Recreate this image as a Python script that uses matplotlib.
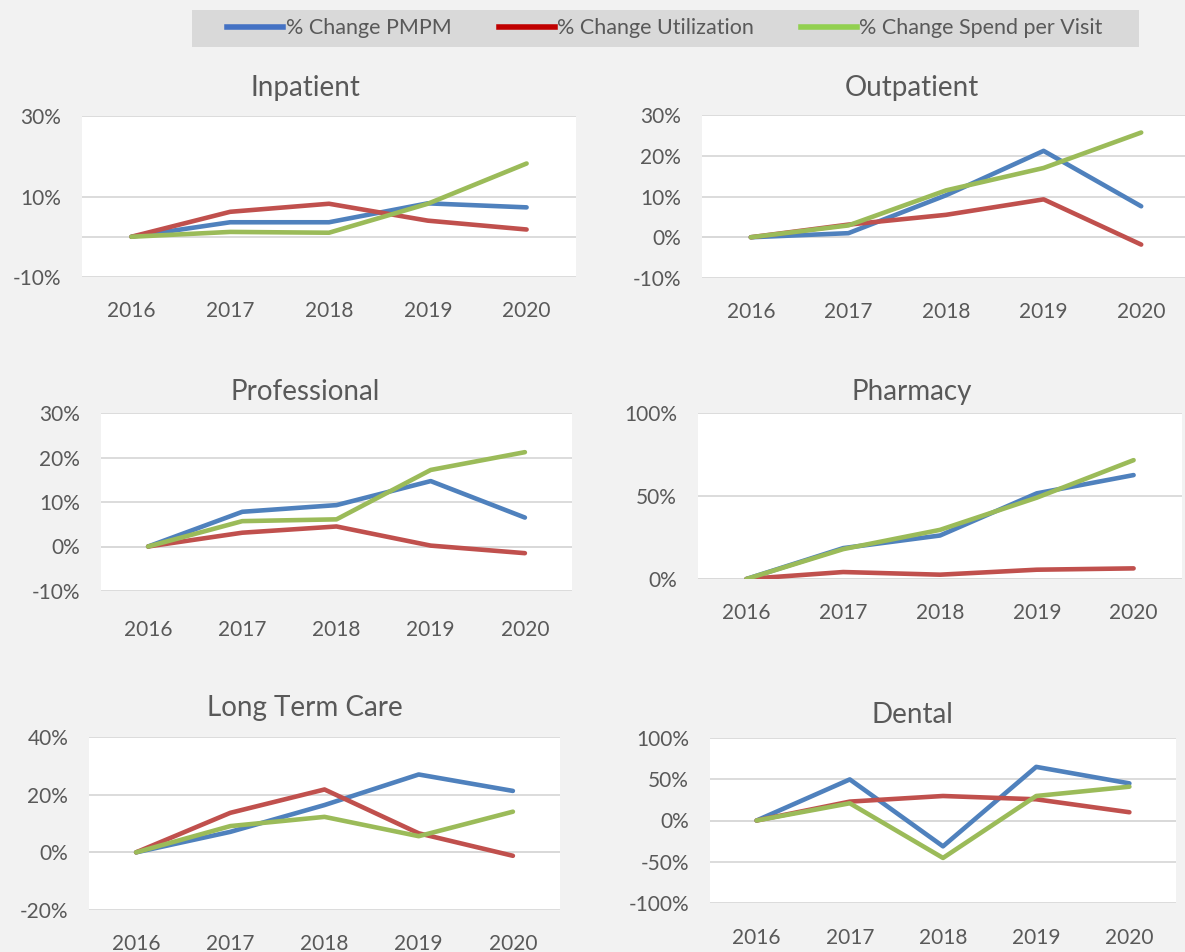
import matplotlib
matplotlib.use("Agg")
import matplotlib.pyplot as plt
from matplotlib.patches import Rectangle
from matplotlib.lines import Line2D
from matplotlib.ticker import FuncFormatter

# --- data (percent change vs 2016) ---
years = ["2016", "2017", "2018", "2019", "2020"]
series_names = ["% Change PMPM", "% Change Utilization", "% Change Spend per Visit"]

inpatient_pmpm = [0, 3.6, 3.6, 8.3, 7.3]
inpatient_util = [0, 6.2, 8.2, 4.0, 1.8]
inpatient_spend = [0, 1.2, 1.0, 8.2, 18.2]

outpatient_pmpm = [0, 1.0, 10.3, 21.2, 7.6]
outpatient_util = [0, 3.1, 5.5, 9.3, -1.8]
outpatient_spend = [0, 2.9, 11.5, 17.0, 25.7]

professional_pmpm = [0, 7.8, 9.3, 14.7, 6.5]
professional_util = [0, 3.1, 4.5, 0.2, -1.5]
professional_spend = [0, 5.7, 6.1, 17.2, 21.2]

pharmacy_pmpm = [0, 18.6, 26.2, 51.6, 62.6]
pharmacy_util = [0, 4.2, 2.6, 5.6, 6.4]
pharmacy_spend = [0, 18.0, 29.6, 49.0, 71.6]

ltc_pmpm = [0, 7.1, 16.4, 27.0, 21.3]
ltc_util = [0, 13.7, 21.8, 6.6, -1.2]
ltc_spend = [0, 9.1, 12.3, 5.6, 14.1]

dental_pmpm = [0, 49.8, -31.3, 65.0, 45.0]
dental_util = [0, 22.9, 29.7, 25.7, 10.0]
dental_spend = [0, 20.9, -45.4, 29.7, 41.0]

# --- style ---
W, H = 1185, 952
BG = "#f2f2f2"
GRID = "#d9d9d9"
TXT = "#595959"
LINE_COLORS = ["#4f81bd", "#c0504d", "#9bbb59"]
LEGEND_COLORS = ["#4472c4", "#c00000", "#92d050"]

plt.rcParams["font.family"] = ["Lato", "DejaVu Sans"]

fig = plt.figure(figsize=(W / 100, H / 100), dpi=100, facecolor=BG)


def px_box(l, r, t, b):
    return [l / W, 1 - b / H, (r - l) / W, (b - t) / H]


panels = [
    # title, data, (l, r, t, b), ylim, grid ticks, label ticks, title pos, xpad
    ("Inpatient", (inpatient_pmpm, inpatient_util, inpatient_spend),
     (82, 576, 116, 277), (-10, 30), [-10, 10, 30], [-10, 10, 30], (305, 88), 17),
    ("Outpatient", (outpatient_pmpm, outpatient_util, outpatient_spend),
     (702, 1190, 115, 278), (-10, 30), [-10, 0, 10, 20, 30], [-10, 0, 10, 20, 30], (912, 88), 17),
    ("Professional", (professional_pmpm, professional_util, professional_spend),
     (101, 572, 413, 591), (-10, 30), [-10, 0, 10, 20, 30], [-10, 0, 10, 20, 30], (305, 392), 21),
    ("Pharmacy", (pharmacy_pmpm, pharmacy_util, pharmacy_spend),
     (698, 1182, 413, 579), (0, 100), [0, 50, 100], [0, 50, 100], (912, 392), 17),
    ("Long Term Care", (ltc_pmpm, ltc_util, ltc_spend),
     (89, 560, 737, 910), (-20, 40), [-20, 0, 20, 40], [-20, 0, 20, 40], (305, 708), 17),
    ("Dental", (dental_pmpm, dental_util, dental_spend),
     (710, 1176, 738, 903), (-100, 100), [-100, -50, 0, 50, 100], [-100, -50, 0, 50, 100], (912, 715), 18),
]

pct = FuncFormatter(lambda v, _: f"{v:.0f}%")

for title, data, box, ylim, grid_ticks, label_ticks, tpos, xpad in panels:
    ax = fig.add_axes(px_box(*box))
    ax.set_facecolor("white")
    x = range(len(years))
    for vals, c in zip(data, LINE_COLORS):
        ax.plot(x, vals, color=c, lw=3.3, solid_capstyle="round", zorder=3)
    ax.set_xlim(-0.5, len(years) - 0.5)
    ax.set_ylim(*ylim)
    for g in grid_ticks:
        ax.axhline(g, color=GRID, lw=1.3, zorder=1)
    ax.axhline(0, color=GRID, lw=1.3, zorder=1)
    ax.set_yticks(label_ticks)
    ax.yaxis.set_major_formatter(pct)
    ax.set_xticks(list(x))
    ax.set_xticklabels(years)
    ax.tick_params(axis="both", length=0, colors=TXT, labelsize=15)
    ax.tick_params(axis="y", pad=15)
    ax.tick_params(axis="x", pad=xpad)
    for s in ax.spines.values():
        s.set_visible(False)
    fig.text(tpos[0] / W, 1 - tpos[1] / H, title, ha="center", va="center",
             fontsize=20, color=TXT)

# legend band at the top
fig.patches.append(Rectangle((192 / W, 1 - 47 / H), (1139 - 192) / W, 37 / H,
                             transform=fig.transFigure, facecolor=GRID,
                             edgecolor="none", zorder=0))
handles = [Line2D([], [], color=c, lw=4) for c in LEGEND_COLORS]
leg = fig.legend(handles, series_names, loc="center", bbox_to_anchor=(665 / W, 1 - 28.5 / H),
                 ncol=3, frameon=False, fontsize=15.5, handlelength=2.6,
                 handletextpad=0.1, columnspacing=2.2, labelcolor=TXT)

fig.savefig("out.png", dpi=100, facecolor=BG)
